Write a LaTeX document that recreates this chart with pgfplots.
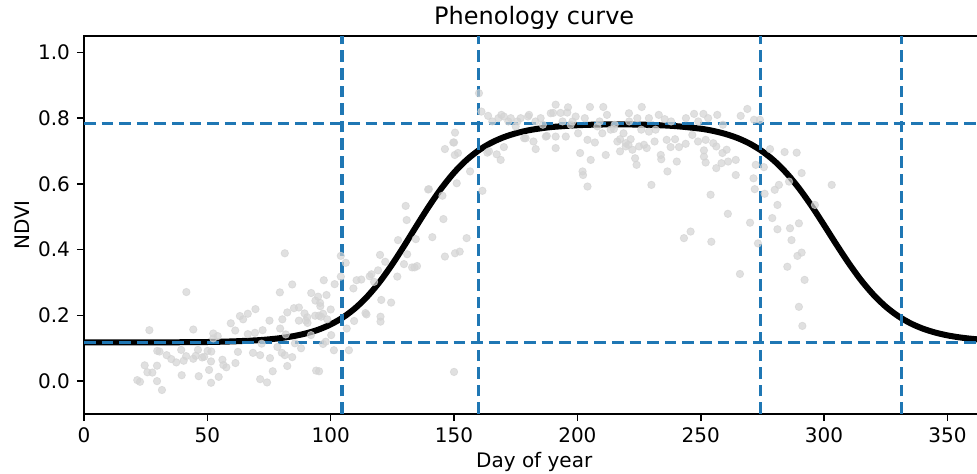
\documentclass[border=0pt]{standalone}
\usepackage{fontspec}
\setmainfont{DejaVu Sans}
\usepackage{pgfplots}
\pgfplotsset{compat=1.18}
\definecolor{mplblue}{HTML}{1F77B4}
\definecolor{ltgray}{RGB}{211,211,211}
\begin{document}
\begin{tikzpicture}
\useasboundingbox (0,0) rectangle (488.5pt,237pt);
\clip (0,0) rectangle (488.5pt,237pt);
\begin{axis}[
  at={(42pt,30pt)}, anchor=south west,
  scale only axis, width=450.2pt, height=189pt,
  xmin=0, xmax=365, ymin=-0.1, ymax=1.05,
  xtick={0,50,100,150,200,250,300,350},
  ytick={0,0.2,0.4,0.6,0.8,1.0},
  tick align=outside, xtick pos=bottom, ytick pos=left,
  major tick length=3.5pt,
  tick style={black, line width=0.8pt},
  axis line style={line width=0.8pt},
  font=\fontsize{10}{12}\selectfont,
  /pgf/number format/assume math mode=true,
  yticklabel style={/pgf/number format/.cd, fixed, fixed zerofill, precision=1},
  every axis title/.style={at={(axis description cs:0.5,1)}, anchor=base, yshift=5.5pt, font=\fontsize{12}{14}\selectfont},
  title={Phenology curve},
  xlabel={Day of year},
  xlabel style={at={(axis description cs:0.5,-0.127)}, anchor=center},
  ylabel={NDVI},
  ylabel style={at={(axis description cs:-0.0689,0.5)}, anchor=center},
  dashline/.style={mplblue, line width=1.7pt, dash pattern=on 5.8pt off 3pt},
]
\addplot[only marks, mark=*, mark size=1.85pt, mark options={draw=ltgray, fill=ltgray, opacity=0.7}] table[row sep=\\] {
x y\\
21.6 0.003\\ 22.7 -0.002\\ 24.6 0.048\\ 25.7 0.027\\ 26.5 0.155\\ 27.7 0.026\\ 29.6 0.047\\ 29.6 0.000\\
29.7 0.092\\ 30.6 0.090\\ 31.6 -0.027\\ 33.5 0.079\\ 35.4 0.067\\ 37.4 0.057\\ 39.4 0.095\\ 39.6 0.018\\
40.4 0.062\\ 41.4 0.076\\ 41.5 0.271\\ 44.3 0.157\\ 44.3 0.068\\ 45.3 0.077\\ 46.2 0.095\\ 46.5 0.015\\
47.9 0.072\\ 48.7 0.074\\ 50.1 0.092\\ 50.7 0.034\\ 51.5 0.060\\ 51.5 -0.005\\ 51.6 0.090\\ 52.4 0.145\\
52.4 0.130\\ 54.2 0.137\\ 54.6 0.013\\ 56.1 0.065\\ 56.5 0.049\\ 57.7 0.042\\ 59.5 0.176\\ 61.3 0.154\\
61.4 0.055\\ 62.4 0.089\\ 63.2 0.198\\ 64.5 0.188\\ 66.4 0.205\\ 66.4 0.143\\ 68.5 0.086\\ 69.3 0.147\\
69.5 0.219\\ 71.4 0.079\\ 71.4 0.006\\ 72.0 0.114\\ 72.4 0.155\\ 74.2 -0.004\\ 75.2 0.184\\ 75.4 0.070\\
76.5 0.030\\ 78.4 0.104\\ 79.4 0.270\\ 79.5 0.160\\ 80.2 0.086\\ 80.4 0.188\\ 81.4 0.389\\ 81.4 0.079\\
81.8 0.142\\ 82.4 0.046\\ 82.4 0.209\\ 84.4 0.294\\ 84.4 0.073\\ 85.1 0.222\\ 85.5 0.115\\ 87.1 0.224\\
87.1 0.184\\ 88.0 0.100\\ 89.4 0.206\\ 89.9 0.184\\ 90.5 0.194\\ 90.6 0.177\\ 92.0 0.140\\ 92.1 0.268\\
93.7 0.199\\ 93.8 0.245\\ 94.1 0.032\\ 94.9 0.257\\ 95.3 0.030\\ 95.2 0.199\\ 95.7 0.238\\ 95.8 0.228\\
96.1 0.196\\ 96.9 0.205\\ 96.9 0.113\\ 97.2 0.307\\ 98.0 0.120\\ 98.3 0.262\\ 98.6 0.188\\ 100.0 0.218\\
100.2 0.140\\ 101.3 0.094\\ 101.6 0.295\\ 104.1 0.318\\ 104.1 0.381\\ 106.1 0.360\\ 106.5 0.160\\ 107.4 0.094\\
109.2 0.282\\ 109.5 0.183\\ 110.5 0.307\\ 112.4 0.309\\ 114.1 0.207\\ 114.5 0.203\\ 115.8 0.319\\ 116.5 0.325\\
117.6 0.302\\ 119.2 0.337\\ 120.0 0.384\\ 120.5 0.247\\ 120.2 0.196\\ 120.2 0.181\\ 122.1 0.363\\ 124.5 0.239\\
127.0 0.318\\ 127.3 0.429\\ 129.7 0.356\\ 130.4 0.533\\ 130.8 0.490\\ 131.0 0.386\\ 133.0 0.346\\ 134.0 0.346\\
134.5 0.432\\ 135.0 0.350\\ 139.5 0.583\\ 139.8 0.584\\ 141.2 0.438\\ 145.3 0.564\\ 145.7 0.493\\ 146.3 0.379\\
146.3 0.706\\ 149.7 0.726\\ 150.0 0.028\\ 150.0 0.726\\ 150.3 0.688\\ 150.4 0.756\\ 150.4 0.389\\ 151.1 0.602\\
151.6 0.694\\ 152.3 0.394\\ 155.1 0.435\\ 156.5 0.638\\ 160.1 0.876\\ 161.1 0.820\\ 161.5 0.579\\ 163.5 0.695\\
163.8 0.807\\ 164.2 0.699\\ 165.5 0.790\\ 167.3 0.690\\ 168.0 0.800\\ 168.9 0.673\\ 169.2 0.810\\ 170.2 0.712\\
170.2 0.805\\ 172.0 0.790\\ 173.0 0.800\\ 175.0 0.775\\ 175.7 0.790\\ 177.0 0.800\\ 178.4 0.739\\ 179.0 0.739\\
180.0 0.805\\ 180.4 0.810\\ 182.2 0.729\\ 183.0 0.790\\ 183.1 0.706\\ 185.1 0.800\\ 186.0 0.780\\ 187.2 0.744\\
187.6 0.746\\ 189.2 0.815\\ 190.2 0.816\\ 191.2 0.841\\ 191.2 0.709\\ 191.2 0.744\\ 193.2 0.816\\ 194.0 0.790\\
195.3 0.744\\ 195.9 0.817\\ 196.2 0.833\\ 197.3 0.780\\ 198.0 0.790\\ 199.3 0.805\\ 200.3 0.754\\ 201.1 0.694\\
202.1 0.638\\ 202.3 0.627\\ 203.0 0.800\\ 204.1 0.592\\ 204.1 0.734\\ 205.1 0.834\\ 205.4 0.673\\ 207.1 0.726\\
208.1 0.775\\ 209.0 0.790\\ 210.1 0.754\\ 210.5 0.834\\ 211.5 0.688\\ 212.0 0.810\\ 213.5 0.765\\ 214.8 0.767\\
215.1 0.780\\ 216.2 0.729\\ 217.3 0.699\\ 217.3 0.736\\ 218.7 0.754\\ 219.6 0.714\\ 219.6 0.724\\ 220.7 0.719\\
220.9 0.815\\ 221.0 0.790\\ 221.6 0.736\\ 222.3 0.704\\ 223.4 0.678\\ 224.0 0.658\\ 224.3 0.800\\ 225.0 0.714\\
225.9 0.765\\ 226.1 0.834\\ 227.0 0.719\\ 228.1 0.709\\ 229.0 0.759\\ 229.0 0.800\\ 230.0 0.597\\ 231.3 0.729\\
231.7 0.765\\ 233.0 0.810\\ 233.8 0.688\\ 234.0 0.675\\ 235.4 0.797\\ 236.2 0.734\\ 236.5 0.638\\ 237.8 0.712\\
238.0 0.790\\ 239.6 0.736\\ 240.3 0.668\\ 241.2 0.712\\ 243.2 0.435\\ 243.9 0.722\\ 244.0 0.800\\ 245.9 0.455\\
246.6 0.749\\ 247.3 0.813\\ 248.9 0.729\\ 249.0 0.790\\ 251.1 0.813\\ 251.3 0.702\\ 251.3 0.683\\ 252.0 0.734\\
252.0 0.665\\ 253.0 0.800\\ 254.0 0.567\\ 254.3 0.424\\ 255.1 0.724\\ 256.3 0.714\\ 256.3 0.648\\ 256.7 0.810\\
258.8 0.694\\ 258.4 0.663\\ 259.0 0.780\\ 260.5 0.704\\ 261.0 0.509\\ 261.1 0.668\\ 264.2 0.673\\ 264.2 0.627\\
265.9 0.326\\ 266.2 0.807\\ 268.9 0.828\\ 270.0 0.482\\ 271.4 0.617\\ 271.6 0.795\\ 271.9 0.584\\ 272.3 0.658\\
273.2 0.419\\ 274.0 0.795\\ 275.6 0.651\\ 275.9 0.570\\ 278.1 0.706\\ 279.0 0.496\\ 280.0 0.582\\ 281.1 0.536\\
281.1 0.462\\ 281.7 0.597\\ 284.0 0.697\\ 285.1 0.348\\ 285.8 0.607\\ 286.2 0.465\\ 286.8 0.429\\ 288.9 0.695\\
289.2 0.381\\ 289.8 0.480\\ 289.8 0.226\\ 290.9 0.391\\ 290.9 0.633\\ 291.2 0.168\\ 292.1 0.308\\ 296.3 0.536\\
303.1 0.597\\
};
\addplot[black, line width=3pt, smooth] table[row sep=\\] {
x y\\
0 0.118\\ 20 0.118\\ 40 0.1183\\ 50 0.119\\ 60 0.1208\\ 70 0.1242\\ 75 0.1271\\ 80 0.1312\\
85 0.1370\\ 90 0.1452\\ 95 0.1566\\ 100 0.1725\\ 105 0.1939\\ 110 0.2223\\ 115 0.2587\\ 120 0.3034\\
125 0.3560\\ 130 0.4142\\ 135 0.4748\\ 140 0.5338\\ 145 0.5877\\ 150 0.6342\\ 155 0.6722\\ 160 0.7021\\
165 0.7248\\ 170 0.7416\\ 175 0.7539\\ 180 0.7627\\ 185 0.7689\\ 190 0.7733\\ 200 0.7785\\ 210 0.7807\\
220 0.7809\\ 230 0.7795\\ 240 0.7757\\ 250 0.7679\\ 255 0.7613\\ 260 0.7520\\ 265 0.7393\\ 270 0.7220\\
275 0.6988\\ 280 0.6688\\ 285 0.6309\\ 290 0.5850\\ 295 0.5323\\ 300 0.4746\\ 305 0.4156\\ 310 0.3588\\
315 0.3071\\ 320 0.2629\\ 325 0.2266\\ 330 0.1980\\ 335 0.1761\\ 340 0.1598\\ 345 0.1479\\ 350 0.1392\\
355 0.1330\\ 360 0.1286\\ 365 0.1255\\
};
\addplot[dashline] coordinates {(0,0.784) (365,0.784)};
\addplot[dashline] coordinates {(0,0.117) (365,0.117)};
\addplot[dashline] coordinates {(104.6,-0.1) (104.6,1.05)};
\addplot[dashline] coordinates {(160,-0.1) (160,1.05)};
\addplot[dashline] coordinates {(274.3,-0.1) (274.3,1.05)};
\addplot[dashline] coordinates {(331.3,-0.1) (331.3,1.05)};
\end{axis}
\end{tikzpicture}
\end{document}
